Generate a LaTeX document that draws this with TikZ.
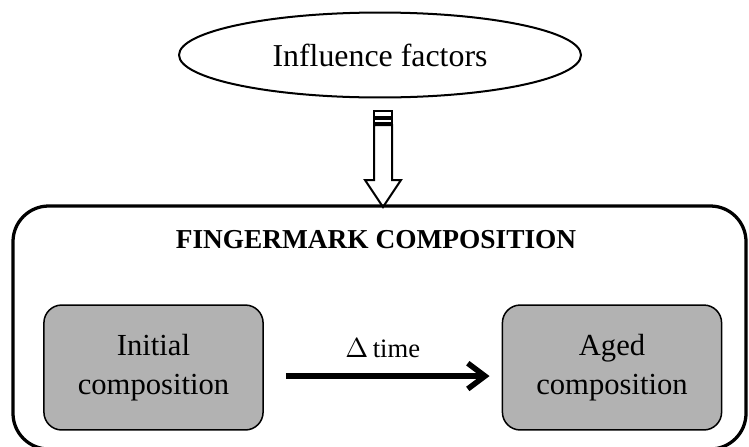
\documentclass[tikz,border=0pt]{standalone}
\usepackage{fontspec}
\setmainfont{Liberation Serif}
\usepackage{tikz}
\usetikzlibrary{arrows.meta, positioning, shapes.geometric, calc}

\begin{document}
\begin{tikzpicture}[x=0.014cm, y=0.014cm]
    % Define styles
    \tikzstyle{factor} = [ellipse, draw, line width=0.8pt, minimum width=5.63cm, minimum height=1.19cm, inner sep=0pt, font=\fontsize{12.7}{15}\selectfont]
    \tikzstyle{frame} = [draw, line width=1.3pt, rounded corners=0.5cm]
    \tikzstyle{state} = [rectangle, draw, line width=0.6pt, rounded corners=0.25cm, fill=gray!60, minimum width=3.07cm, minimum height=1.75cm, align=center, font=\fontsize{12.2}{15.4}\selectfont]
    \tikzstyle{hollow} = [draw, line width=0.8pt, fill=white]
    \tikzstyle{line} = [draw, line width=2.2pt, -{Straight Barb[length=0.24cm, width=0.36cm]}]

    % Page frame
    \clip (0,0) rectangle (749,446);

    % Influence factors
    \node[factor] (infl) at (380,391) {Influence factors};

    % Striped block arrow down to the composition frame
    \path[hollow] (374,335) rectangle (392,329);
    \path[hollow] (374,327) rectangle (392,323);
    \path[hollow] (374,321) -- (374,266) -- (365,266) -- (383,239) -- (401,266) -- (392,266) -- (392,321) -- cycle;

    % Composition frame
    \draw[frame] (13,-3) rectangle (746,240);
    \node[font=\fontsize{10.9}{12}\selectfont\bfseries] (title) at (376,206) {FINGERMARK COMPOSITION};

    % Initial and aged states
    \node[state] (init) at (153.5,78.5) {Initial\\composition};
    \node[state] (aged) at (612,78.5) {Aged\\composition};

    % Ageing over time
    \draw[line, shorten <=0.31cm, shorten >=0.17cm] ([yshift=-0.12cm]init.east) -- node[above=0.1cm, font=\fontsize{10.6}{12}\selectfont] (dt) {$\Delta$\,time} ([yshift=-0.12cm]aged.west);
\end{tikzpicture}
\end{document}
